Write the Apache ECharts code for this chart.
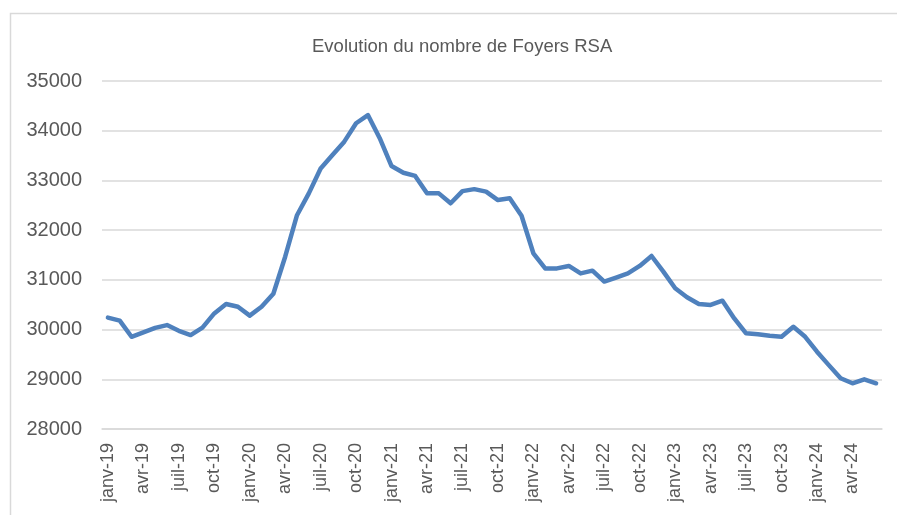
<!DOCTYPE html>
<html>
<head>
<meta charset="utf-8">
<script src="https://cdn.jsdelivr.net/npm/echarts@6/dist/echarts.min.js"></script>
<style>
  html, body { margin: 0; padding: 0; background: #fff; }
  #chart { width: 897px; height: 515px; }
</style>
</head>
<body>
<div id="chart"></div>
<script>
// mois en abrégé, comme dans Excel
const months = ['janv', 'févr', 'mars', 'avr', 'mai', 'juin', 'juil', 'août', 'sept', 'oct', 'nov', 'déc']
const years = ['19', '20', '21', '22', '23', '24']
const lastMonthCount = 6 // 2024 : janv à juin

const categories = []
years.forEach((y, yi) => {
  const n = yi === years.length - 1 ? lastMonthCount : 12
  for (let m = 0; m < n; m++) categories.push(months[m] + '-' + y)
})

// nombre de foyers RSA
const foyers = [
  30240, 30180, 29855, 29945, 30035, 30090, 29975, 29890, 30040, 30325, 30515, 30460,
  30280, 30460, 30720, 31465, 32300, 32740, 33240, 33510, 33780, 34150, 34315, 33850,
  33290, 33155, 33090, 32740, 32740, 32540, 32785, 32825, 32775, 32605, 32640, 32290,
  31535, 31230, 31230, 31280, 31130, 31185, 30965, 31045, 31130, 31280, 31480, 31165,
  30830, 30650, 30515, 30495, 30580, 30225, 29925, 29905, 29875, 29855, 30055, 29855,
  29555, 29285, 29020, 28920, 29000, 28920
]

const yMin = 28000
const yMax = 35000
const yStep = 1000

const textColor = '#595959'
const gridColor = '#d9d9d9'
const font = 'Liberation Sans'

const my_echart = echarts.init(document.getElementById('chart'), null, {renderer: 'canvas'})

my_echart.setOption({
  animation: false,
  backgroundColor: '#fff',
  title: {
    text: 'Evolution du nombre de Foyers RSA',
    left: 307,
    top: 32,
    textStyle: {
      color: textColor,
      fontFamily: font,
      fontSize: 18.5,
      fontWeight: 'normal'
    }
  },
  graphic: [
    {
      type: 'rect',
      left: 8,
      top: 11,
      shape: { width: 900, height: 520 },
      style: { fill: 'none', stroke: gridColor, lineWidth: 1.5 },
      silent: true
    }
  ],
  grid: {
    left: 102,
    right: 15,
    top: 81,
    bottom: 86
  },
  xAxis: {
    type: 'category',
    data: categories,
    boundaryGap: true,
    axisLine: { lineStyle: { color: gridColor, width: 1.5 } },
    axisTick: {
      interval: 2,
      length: 5,
      lineStyle: { color: gridColor, width: 1.5 }
    },
    axisLabel: {
      interval: 2,
      rotate: 90,
      margin: 14,
      color: textColor,
      fontFamily: font,
      fontSize: 18
    }
  },
  yAxis: {
    type: 'value',
    min: yMin,
    max: yMax,
    interval: yStep,
    axisLine: { show: false },
    axisTick: { show: false },
    axisLabel: {
      margin: 20,
      color: textColor,
      fontFamily: font,
      fontSize: 20,
      formatter: function (v) { return String(v) }
    },
    splitLine: { lineStyle: { color: gridColor, width: 1.5 } }
  },
  series: [
    {
      name: 'Foyers RSA',
      type: 'line',
      data: foyers,
      showSymbol: false,
      lineStyle: { color: '#4f81bd', width: 4.5, cap: 'round', join: 'round' },
      itemStyle: { color: '#4f81bd' }
    }
  ]
})
</script>
</body>
</html>
